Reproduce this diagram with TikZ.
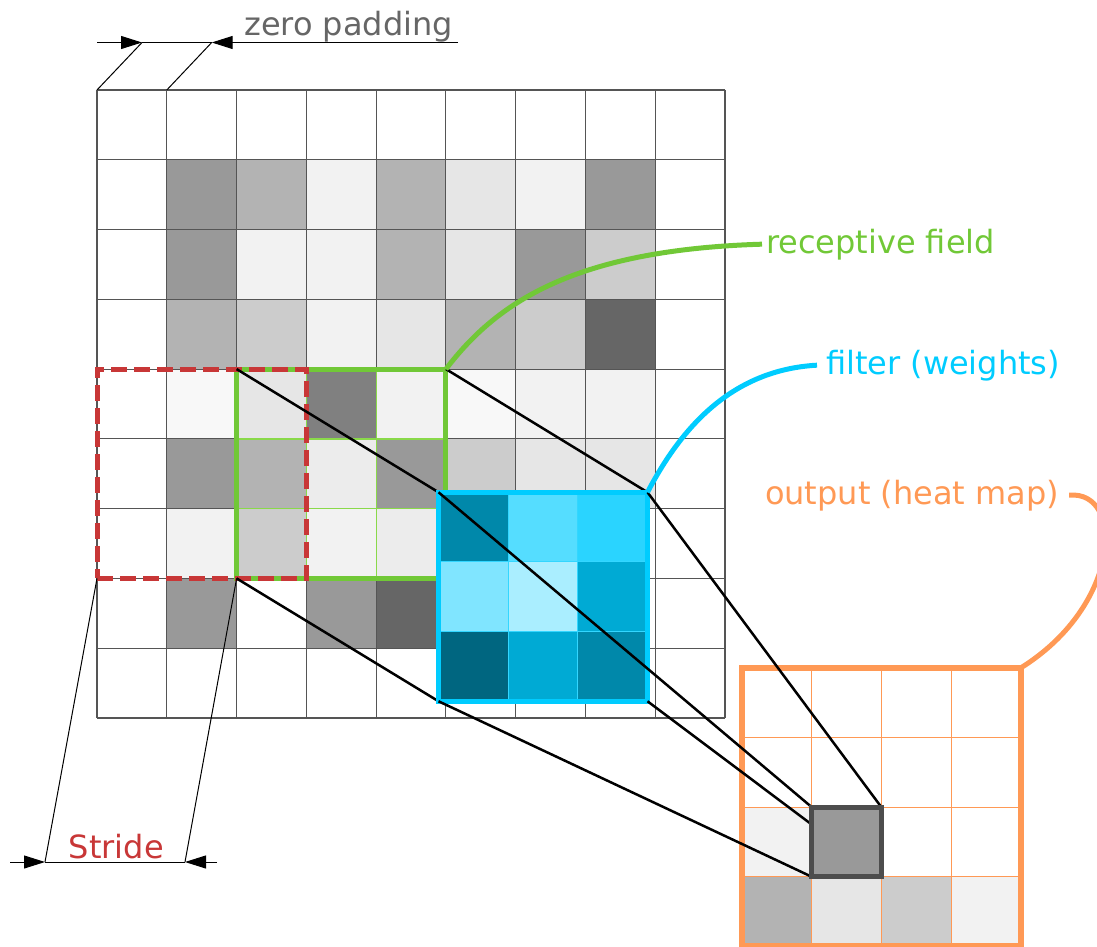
\documentclass[tikz,border=0pt]{standalone}
\usepackage{fontspec}
\setmainfont{DejaVu Sans}
\usetikzlibrary{arrows.meta}

% grey levels of the input map
\definecolor{g99}{HTML}{999999}
\definecolor{gb3}{HTML}{B3B3B3}
\definecolor{gcc}{HTML}{CCCCCC}
\definecolor{ge6}{HTML}{E6E6E6}
\definecolor{gec}{HTML}{ECECEC}
\definecolor{gf2}{HTML}{F2F2F2}
\definecolor{gf8}{HTML}{F8F8F8}
\definecolor{g80}{HTML}{808080}
\definecolor{g66}{HTML}{666666}
\definecolor{gridgray}{HTML}{555555}
\definecolor{hlborder}{HTML}{4D4D4D}
% filter weights
\definecolor{fa}{HTML}{0088AA}
\definecolor{fb}{HTML}{55DDFF}
\definecolor{fc}{HTML}{2AD4FF}
\definecolor{fd}{HTML}{80E5FF}
\definecolor{fe}{HTML}{AAEEFF}
\definecolor{ff}{HTML}{00AAD4}
\definecolor{fg}{HTML}{006680}
% accents
\definecolor{rfgreen}{HTML}{71C837}
\definecolor{rfgreenlight}{HTML}{8AD94A}
\definecolor{filtcyan}{HTML}{00CCFF}
\definecolor{filtinner}{HTML}{33D6FF}
\definecolor{outorange}{HTML}{FF9955}
\definecolor{stridered}{HTML}{C83737}
\definecolor{labelgray}{HTML}{666666}

\begin{document}
\begin{tikzpicture}[x=1pt,y=-1pt,
  every node/.style={inner sep=0pt,outer sep=0pt},
  labelfont/.style={font=\fontsize{32}{38}\selectfont},
  gridline/.style={draw=gridgray,line width=1.1pt},
  rfbox/.style={draw=rfgreen,line width=5pt,minimum size=209.3pt},
  rfinner/.style={draw=rfgreenlight,line width=1.2pt},
  stridebox/.style={draw=stridered,line width=5pt,dash pattern=on 16pt off 7pt,minimum size=209.3pt},
  filtbox/.style={draw=filtcyan,line width=5.5pt,minimum size=209pt},
  filtinnerline/.style={draw=filtinner,line width=1pt},
  outbox/.style={draw=outorange,line width=6pt,minimum width=278.4pt,minimum height=278.4pt},
  outinner/.style={draw=outorange,line width=1pt},
  hlbox/.style={draw=hlborder,fill=g99,line width=5pt,minimum size=69.6pt},
  projline/.style={draw=black,line width=2.5pt},
  dimline/.style={draw=black,line width=1pt},
  dimarrow/.style={draw=black,line width=1pt,-{Triangle[length=21pt,width=13pt]}},
  callout/.style={line width=5pt},
  calloutlabel/.style={labelfont,inner sep=4pt,anchor=base west},
]
\useasboundingbox (0,0) rectangle (1097,947);

% ---------- input map (9x9 with one cell of zero padding) ----------
\def\cs{69.78}
\foreach \r/\c/\col in {
  1/1/g99,1/2/gb3,1/3/gf2,1/4/gb3,1/5/ge6,1/6/gf2,1/7/g99,
  2/1/g99,2/2/gf2,2/3/gf2,2/4/gb3,2/5/ge6,2/6/g99,2/7/gcc,
  3/1/gb3,3/2/gcc,3/3/gf2,3/4/ge6,3/5/gb3,3/6/gcc,3/7/g66,
  4/1/gf8,4/2/ge6,4/3/g80,4/4/gf2,4/5/gf8,4/6/gf2,4/7/gf2,
  5/1/g99,5/2/gb3,5/3/gec,5/4/g99,5/5/gcc,5/6/ge6,5/7/ge6,
  6/1/gf2,6/2/gcc,6/3/gf2,6/4/gec,
  7/1/g99,7/3/g99,7/4/g66}
  \fill[\col] ({97+\c*\cs},{90+\r*\cs}) rectangle ++(\cs,\cs);
\foreach \i in {0,...,9} {
  \draw[gridline] ({97+\i*\cs},90) -- ({97+\i*\cs},718);
  \draw[gridline] (97,{90+\i*\cs}) -- (725,{90+\i*\cs});
}

% ---------- receptive field ----------
\draw[rfinner] (306.3,369.1) -- (306.3,578.4);
\draw[rfinner] (376.1,369.1) -- (376.1,578.4);
\draw[rfinner] (236.6,438.9) -- (445.9,438.9);
\draw[rfinner] (236.6,508.7) -- (445.9,508.7);
\node[rfbox] (rf) at (341.25,473.75) {};

% ---------- stride window ----------
\node[stridebox] (sw) at (201.65,473.75) {};

% ---------- zero padding dimension ----------
\coordinate (zpL) at (97,42.5);
\coordinate (zpA) at (142,42.5);
\coordinate (zpB) at (211.7,42.5);
\coordinate (zpR) at (458,42.5);
\coordinate (cellA) at (97,90);
\coordinate (cellB) at (166.8,90);
\draw[dimline] (zpA) -- (zpB);
\draw[dimarrow] (zpL) -- (zpA);
\draw[dimarrow] (zpR) -- (zpB);
\draw[dimline] (cellA) -- (zpA);
\draw[dimline] (cellB) -- (zpB);
\node[labelfont,text=labelgray,anchor=base west] (zplabel) at (244.3,36) {zero padding};

% ---------- stride dimension ----------
\coordinate (stL) at (10,862);
\coordinate (stA) at (45,862);
\coordinate (stB) at (185,862);
\coordinate (stR) at (217,862);
\draw[dimline] (stA) -- (stB);
\draw[dimarrow] (stL) -- (stA);
\draw[dimarrow] (stR) -- (stB);
\draw[dimline] (sw.south west) -- (stA);
\draw[dimline] (rf.south west) -- (stB);
\node[labelfont,text=stridered,anchor=base] (stlabel) at (116.3,858) {Stride};

% ---------- filter ----------
\node[filtbox] (filt) at (543,596.75) {};
\draw[projline] (rf.north west) -- (filt.north west);
\draw[projline] (rf.north east) -- (filt.north east);
\draw[projline] (rf.south west) -- (filt.south west);
\def\fs{69.67}
\foreach \r/\c/\col in {0/0/fa,0/1/fb,0/2/fc,1/0/fd,1/1/fe,1/2/ff,2/0/fg,2/1/ff,2/2/fa}
  \fill[\col] ({438.5+\c*\fs},{492.25+\r*\fs}) rectangle ++(\fs,\fs);
\foreach \i in {1,2} {
  \draw[filtinnerline] ({438.5+\i*\fs},492.25) -- ({438.5+\i*\fs},701.25);
  \draw[filtinnerline] (438.5,{492.25+\i*\fs}) -- (647.5,{492.25+\i*\fs});
}
\node[filtbox] at (filt.center) {};

% ---------- output (heat map) ----------
\def\os{69.6}
\foreach \r/\c/\col in {2/0/gf2,3/0/gb3,3/1/ge6,3/2/gcc,3/3/gf2}
  \fill[\col] ({742.2+\c*\os},{668+\r*\os}) rectangle ++(\os,\os);
\foreach \i in {1,2,3} {
  \draw[outinner] ({742.2+\i*\os},668) -- ({742.2+\i*\os},946.4);
  \draw[outinner] (742.2,{668+\i*\os}) -- (1020.6,{668+\i*\os});
}
\node[outbox] (out) at (881.4,807.2) {};

% projection of the filter onto one output value
\coordinate (hlc) at (846.6,842);
\path (hlc) node[minimum size=69.6pt] (hlshape) {};
\draw[projline] (filt.north west) -- (hlshape.north west);
\draw[projline] (filt.north east) -- (hlshape.north east);
\draw[projline] (filt.south west) -- (hlshape.south west);
\draw[projline] (filt.south east) -- (hlshape.south east);
\node[hlbox] (hl) at (hlc) {};

% ---------- call-out labels ----------
\node[calloutlabel,text=rfgreen] (rftext) at (762,253) {receptive field};
\node[calloutlabel,text=filtcyan] (filttext) at (822,374) {filter (weights)};
\node[calloutlabel,text=outorange] (outtext) at (761,504) {output (heat map)};

\draw[callout,draw=rfgreen] (rf.north east) .. controls (495,305) and (570,250) .. (rftext.west);
\draw[callout,draw=filtcyan] (filt.north east) .. controls (680,430) and (730,370) .. ([xshift=-5pt]filttext.west);
\draw[callout,draw=outorange] ([xshift=6pt]outtext.east) .. controls (1125,490) and (1122,605) .. (out.north east);
\end{tikzpicture}
\end{document}
